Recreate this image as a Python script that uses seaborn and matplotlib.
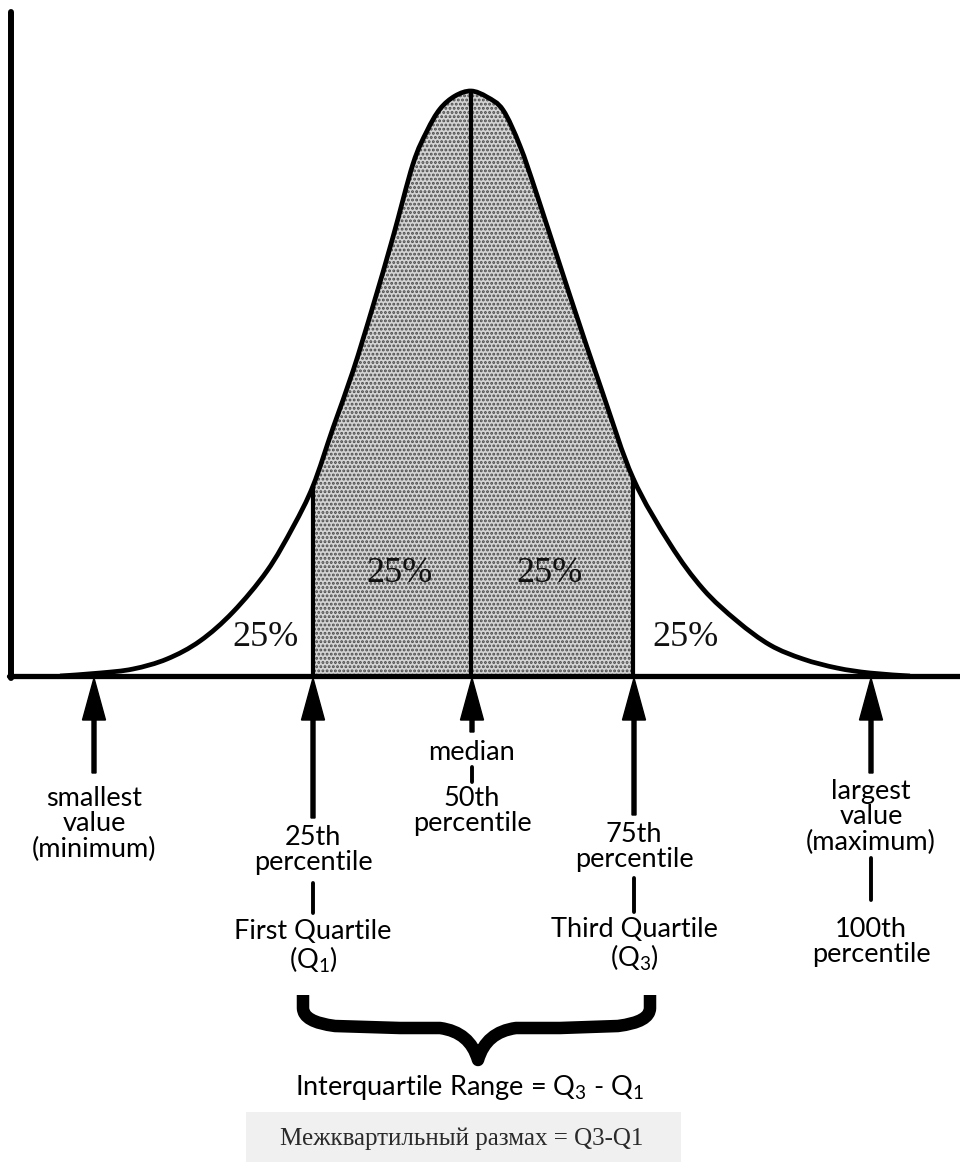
import matplotlib
matplotlib.use("Agg")
import matplotlib.pyplot as plt
from matplotlib.path import Path
from matplotlib.patches import PathPatch, Rectangle
import seaborn as sns

sns.set_theme(style="white")
plt.rcParams["font.family"] = ["Lato", "DejaVu Sans"]
plt.rcParams["mathtext.fontset"] = "custom"
plt.rcParams["mathtext.rm"] = "Lato"
plt.rcParams["hatch.linewidth"] = 1.4

# bell curve (x position, height above the baseline)
curve_x = [60, 100, 133, 167, 200, 233, 267, 293, 313, 333, 353, 373, 393, 413, 427,
           440, 455, 471, 487, 503, 520, 537, 570, 603, 633, 670, 703, 737, 770, 803,
           837, 870, 910]
curve_h = [0, 3, 7, 17, 35, 64, 105, 149, 190, 248, 305, 370, 439, 512, 545,
           567, 580, 585, 579, 566, 530, 481, 380, 282, 198, 132, 87, 55, 31, 17,
           8, 3, 0]

quartile_x = [313, 471, 633]
quartile_h = [190, 585, 198]

pct_labels = ["25%", "25%", "25%", "25%"]
pct_x = [266, 400, 550, 686]
pct_y = [38, 102, 102, 38]

arrow_x = [94, 313, 472, 634, 871]
arrow_bottom = [-97, -142, -56, -139, -97]

SERIF = ["Liberation Serif", "DejaVu Serif"]
LABEL_SIZE = 19.5


#
def smooth_path(xs, ys):
    # catmull-rom through the read points, drawn as cubic bezier segments
    pts = list(zip(xs, ys))
    n = len(pts)
    verts = [pts[0]]
    codes = [Path.MOVETO]
    for i in range(n - 1):
        p0 = pts[max(i - 1, 0)]
        p1 = pts[i]
        p2 = pts[i + 1]
        p3 = pts[min(i + 2, n - 1)]
        c1 = (p1[0] + (p2[0] - p0[0]) / 6, p1[1] + (p2[1] - p0[1]) / 6)
        c2 = (p2[0] - (p3[0] - p1[0]) / 6, p2[1] - (p3[1] - p1[1]) / 6)
        verts += [c1, c2, p2]
        codes += [Path.CURVE4] * 3
    return verts, codes


#
def draw_label(ax, x, y, text, size=LABEL_SIZE):
    ax.text(x, y, text, ha="center", va="center", fontsize=size,
            color="black", linespacing=1.02)


fig = plt.figure(figsize=(9.6, 11.62), dpi=100)
ax = fig.add_axes([0, 0, 1, 1])
ax.set_xlim(0, 960)
ax.set_ylim(-486, 676)
ax.axis("off")

# shaded middle half
lo = curve_x.index(quartile_x[0])
hi = curve_x.index(quartile_x[-1])
verts, codes = smooth_path(curve_x[lo:hi + 1], curve_h[lo:hi + 1])
verts += [(quartile_x[-1], 0), (quartile_x[0], 0), (quartile_x[0], 0)]
codes += [Path.LINETO, Path.LINETO, Path.CLOSEPOLY]
ax.add_patch(PathPatch(Path(verts, codes), facecolor="#d4d4d4", edgecolor="#4a4a4a",
                       hatch="....", linewidth=0, zorder=1))

verts, codes = smooth_path(curve_x, curve_h)
ax.add_patch(PathPatch(Path(verts, codes), facecolor="none", edgecolor="black",
                       linewidth=3.4, zorder=3))
ax.vlines(quartile_x, 0, quartile_h, color="black", linewidth=3, zorder=3)

# axes drawn by hand
sns.lineplot(x=[11, 11], y=[664, -2], ax=ax, color="black", linewidth=4.3,
             estimator=None, sort=False, zorder=4)
sns.lineplot(x=[9, 960], y=[0, 0], ax=ax, color="black", linewidth=3.8,
             estimator=None, sort=False, zorder=4)

for lab, x, y in zip(pct_labels, pct_x, pct_y):
    ax.text(x, y, lab, ha="center", va="center", fontsize=26, family=SERIF,
            color="#111111", zorder=5)

for x, b in zip(arrow_x, arrow_bottom):
    ax.arrow(x, b, 0, -2 - b, width=4, head_width=23, head_length=42,
             length_includes_head=True, color="black", zorder=4)

# labels under the arrows
draw_label(ax, 94, -148, "smallest\nvalue\n(minimum)")

draw_label(ax, 313, -174, "25th\npercentile")
ax.plot([313, 313], [-207, -237], color="black", linewidth=2.8)
draw_label(ax, 313, -271, "First Quartile\n(Q$_1$)")

draw_label(ax, 472, -77, "median")
ax.plot([472, 472], [-91, -106], color="black", linewidth=2.8)
draw_label(ax, 472, -135, "50th\npercentile")

draw_label(ax, 634, -171, "75th\npercentile")
ax.plot([634, 634], [-202, -236], color="black", linewidth=2.8)
draw_label(ax, 634, -269, "Third Quartile\n(Q$_3$)")

draw_label(ax, 871, -141, "largest\nvalue\n(maximum)")
ax.plot([871, 871], [-182, -224], color="black", linewidth=2.8)
draw_label(ax, 871, -266, "100th\npercentile")

# curly brace under the interquartile range
brace = Path(
    [(303, -319), (303, -332), (303, -346), (335, -350),
     (400, -352), (440, -352), (470, -356), (478, -384),
     (486, -356), (516, -352), (560, -352),
     (618, -350), (650, -346), (650, -332), (650, -319)],
    [Path.MOVETO, Path.LINETO, Path.CURVE3, Path.CURVE3,
     Path.LINETO, Path.LINETO, Path.CURVE3, Path.CURVE3,
     Path.CURVE3, Path.CURVE3, Path.LINETO,
     Path.LINETO, Path.CURVE3, Path.CURVE3, Path.LINETO])
ax.add_patch(PathPatch(brace, facecolor="none", edgecolor="black", linewidth=9,
                       capstyle="butt", joinstyle="round"))

draw_label(ax, 470, -411, "Interquartile Range = Q$_3$ - Q$_1$", size=19.5)

ax.add_patch(Rectangle((246, -486), 435, 50, facecolor="#f0f0f0", edgecolor="none"))
ax.text(462, -463, "Межквартильный размах = Q3-Q1", ha="center", va="center",
        fontsize=18, family=SERIF, color="#2a2a2a")

fig.savefig("out.png", dpi=100)
plt.close(fig)
